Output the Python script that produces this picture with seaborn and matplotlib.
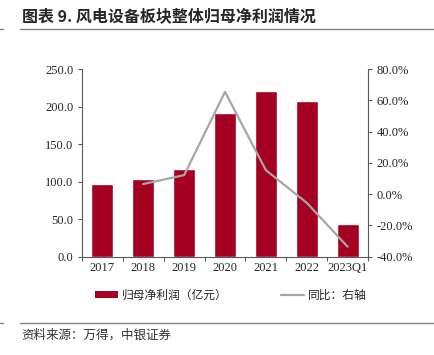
import numpy as np
import pandas as pd
import seaborn as sns
import matplotlib.pyplot as plt
from matplotlib.lines import Line2D
from matplotlib.patches import Patch

#%% data
years = ['2017', '2018', '2019', '2020', '2021', '2022', '2023Q1']
profit = [96.8, 103.9, 116.4, 191.8, 221.1, 207.4, 43.2]
yoy_years = ['2018', '2019', '2020', '2021', '2022', '2023Q1']
yoy = [6.5, 12.2, 65.5, 15.4, -5.5, -33.6]

bar_color = '#A50021'
line_color = '#A6A6A6'

sns.set_style('white')
plt.rcParams['font.family'] = ['Liberation Serif', 'Noto Sans CJK SC', 'DejaVu Sans']
cjk = ['Noto Sans CJK SC', 'DejaVu Sans']

df = pd.DataFrame({'year': years, 'profit': profit})
pos = {y: i for i, y in enumerate(years)}
df_yoy = pd.DataFrame({'x': [pos[y] for y in yoy_years], 'yoy': yoy})

#%% plot
fig = plt.figure(figsize=(4.35, 3.55), dpi=100)
ax = fig.add_axes([0.1885, 0.277, 0.6575, 0.528])
sns.barplot(data=df, x='year', y='profit', color=bar_color, width=0.54,
            saturation=1, ax=ax)
ax.set_xlim(-0.5, len(years) - 0.5)
ax.set_ylim(0, 250)
ax.set_yticks(np.arange(0, 251, 50))
ax.set_yticklabels([f'{v:.1f}' for v in np.arange(0, 251, 50)])
ax.set_xlabel('')
ax.set_ylabel('')

ax2 = ax.twinx()
sns.lineplot(data=df_yoy, x='x', y='yoy', color=line_color, linewidth=1.6, ax=ax2)
ax2.set_ylim(-40, 80)
ax2.set_yticks(np.arange(-40, 81, 20))
ax2.set_yticklabels([f'{v:.1f}%' for v in np.arange(-40, 81, 20)])
ax2.set_ylabel('')
ax2.set_xlim(-0.5, len(years) - 0.5)

for a in (ax, ax2):
    for s in a.spines.values():
        s.set_visible(False)
    a.grid(False)
ax.spines['left'].set_visible(True)
ax.spines['bottom'].set_visible(True)
ax2.spines['right'].set_visible(True)
for s in (ax.spines['left'], ax.spines['bottom'], ax2.spines['right']):
    s.set_color('#595959')
    s.set_linewidth(0.8)

ax.tick_params(axis='y', which='major', length=3, width=0.8, color='#595959',
               labelsize=9, pad=3, left=True)
ax2.tick_params(axis='y', which='major', length=3, width=0.8, color='#595959',
                labelsize=9, pad=3, right=True)
ax.tick_params(axis='x', which='major', length=0, labelsize=9, pad=4)
ax.set_xticks(np.arange(-0.5, len(years), 1), minor=True)
ax.tick_params(axis='x', which='minor', length=3, width=0.8, color='#595959', bottom=True)

# legend
handles = [Patch(facecolor=bar_color, edgecolor='none', label='归母净利润（亿元）'),
           Line2D([0], [0], color=line_color, linewidth=1.6, label='同比：右轴')]
fig.legend(handles=handles, loc='center', bbox_to_anchor=(0.53, 0.168), ncol=2,
           frameon=False, prop={'family': cjk, 'size': 8.5}, handlelength=2.0,
           handleheight=0.45, columnspacing=4.5, handletextpad=0.3)

# title & source
fig.text(0.05, 0.955, '图表 9. 风电设备板块整体归母净利润情况', fontsize=11.5,
         fontweight='bold', family=cjk, va='center', ha='left')
fig.add_artist(Line2D([0.046, 1.0], [0.918, 0.918], color='#808080', linewidth=1.0))
fig.add_artist(Line2D([0.0, 0.007], [0.918, 0.918], color='#808080', linewidth=1.0))
fig.add_artist(Line2D([0.046, 1.0], [0.091, 0.091], color='#808080', linewidth=1.0))
fig.add_artist(Line2D([0.0, 0.007], [0.091, 0.091], color='#808080', linewidth=1.0))
fig.text(0.05, 0.056, '资料来源：万得，中银证券', fontsize=9, family=cjk,
         va='center', ha='left', color='#333333')

fig.savefig('out.png', dpi=100)
